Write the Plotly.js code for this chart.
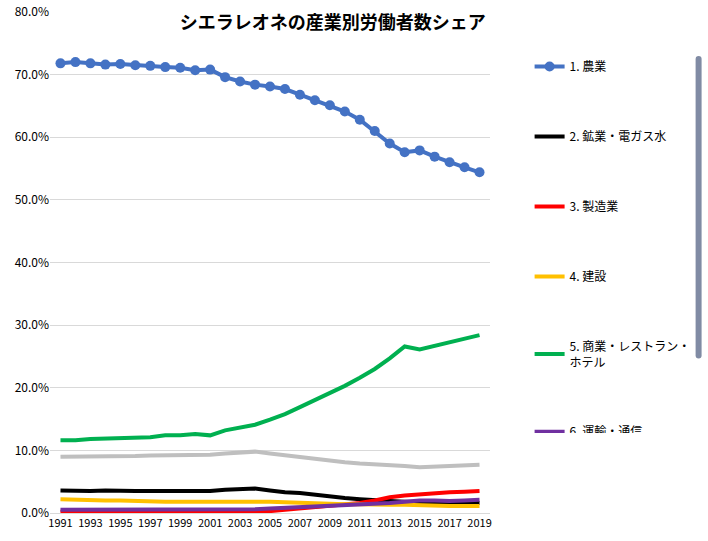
<!DOCTYPE html>
<html lang="ja">
<head>
<meta charset="UTF-8">
<script src="https://cdn.plot.ly/plotly-3.0.1.min.js"></script>
</head>
<body style="margin:0">
<div id="chart" style="width:708px;height:541px"></div>
<script>
const years = [];
for (let y = 1991; y <= 2019; y++) years.push(y);

const names = ['1. 農業', '2. 鉱業・電ガス水', '3. 製造業', '4. 建設',
    '5. 商業・レストラン・<br>ホテル', '6. 運輸・通信', '7. 医療・教育・公務・<br>その他サービス'];
const colors = ['#4472c4', '#000000', '#ff0000', '#ffc000', '#00b050', '#7030a0', '#bfbfbf'];

const agri = [71.8, 72.0, 71.8, 71.6, 71.7, 71.5, 71.4, 71.2, 71.1, 70.7, 70.8, 69.6, 68.9, 68.4, 68.1, 67.7, 66.8, 65.9, 65.1, 64.1, 62.8, 61.0, 59.0, 57.6, 57.9, 56.9, 56.0, 55.2, 54.4];
const mining = [3.6, 3.5, 3.5, 3.6, 3.5, 3.5, 3.5, 3.5, 3.5, 3.6, 3.5, 3.7, 3.8, 3.9, 3.6, 3.3, 3.2, 2.9, 2.7, 2.4, 2.2, 2.0, 1.9, 1.8, 1.7, 1.6, 1.6, 1.6, 1.6];
const manuf = [0.2, 0.2, 0.2, 0.2, 0.2, 0.2, 0.2, 0.3, 0.3, 0.3, 0.3, 0.3, 0.3, 0.3, 0.3, 0.5, 0.7, 0.9, 1.1, 1.3, 1.6, 2.0, 2.5, 2.8, 3.0, 3.2, 3.3, 3.4, 3.5];
const constr = [2.2, 2.1, 2.1, 2.0, 2.0, 1.9, 1.9, 1.8, 1.8, 1.8, 1.8, 1.8, 1.9, 1.9, 1.8, 1.7, 1.6, 1.6, 1.5, 1.4, 1.4, 1.3, 1.3, 1.3, 1.2, 1.1, 1.1, 1.1, 1.1];
const commerce = [11.6, 11.6, 11.8, 11.9, 11.9, 12.0, 12.1, 12.4, 12.4, 12.6, 12.4, 13.2, 13.6, 14.1, 14.9, 15.8, 16.9, 18.0, 19.1, 20.3, 21.6, 23.0, 24.7, 26.6, 26.1, 26.7, 27.3, 27.8, 28.4];
const transport = [0.5, 0.5, 0.5, 0.5, 0.5, 0.5, 0.5, 0.6, 0.6, 0.6, 0.6, 0.6, 0.6, 0.6, 0.7, 0.8, 0.9, 1.0, 1.1, 1.3, 1.4, 1.5, 1.6, 1.8, 2.0, 2.0, 1.9, 2.0, 2.1];
const other = [9.0, 9.0, 9.1, 9.1, 9.1, 9.1, 9.2, 9.2, 9.2, 9.3, 9.3, 9.5, 9.7, 9.8, 9.5, 9.2, 8.9, 8.6, 8.4, 8.1, 7.9, 7.8, 7.6, 7.5, 7.3, 7.4, 7.4, 7.5, 7.7];

const series = [agri, mining, manuf, constr, commerce, transport, other];

const data = series.map((vals, i) => ({
    x: years,
    y: vals,
    type: 'scatter',
    mode: i === 0 ? 'lines+markers' : 'lines',
    name: names[i],
    legendgroup: 'g' + i,
    line: {color: colors[i], width: 4},
    marker: {size: 10, color: colors[i]}
}));

const layout = {
    width: 708, height: 541,
    margin: {l: 50, r: 218, t: 12, b: 28},
    paper_bgcolor: '#fff', plot_bgcolor: '#fff',
    font: {family: '"Noto Sans CJK JP", sans-serif', size: 12, color: '#000'},
    title: {text: '<b>シエラレオネの産業別労働者数シェア</b>', font: {size: 18}, x: 0.47, xanchor: 'center', y: 0.97},
    xaxis: {
        tickvals: years.filter(y => y % 2 === 1),
        range: [1990.3, 2019.7],
        showgrid: false, showline: true, linecolor: '#d9d9d9',
        ticks: '', tickfont: {size: 11}
    },
    yaxis: {
        range: [0, 80], dtick: 10, tickformat: '.1f', ticksuffix: '%',
        gridcolor: '#d9d9d9', zeroline: false, ticks: '', tickfont: {size: 12}
    },
    legend: {x: 1.09, y: 0.895, yanchor: 'top', tracegroupgap: 51, font: {size: 12}, itemwidth: 30},
    showlegend: true
};

Plotly.newPlot('chart', data, layout, {displayModeBar: false});
</script>
</body>
</html>
